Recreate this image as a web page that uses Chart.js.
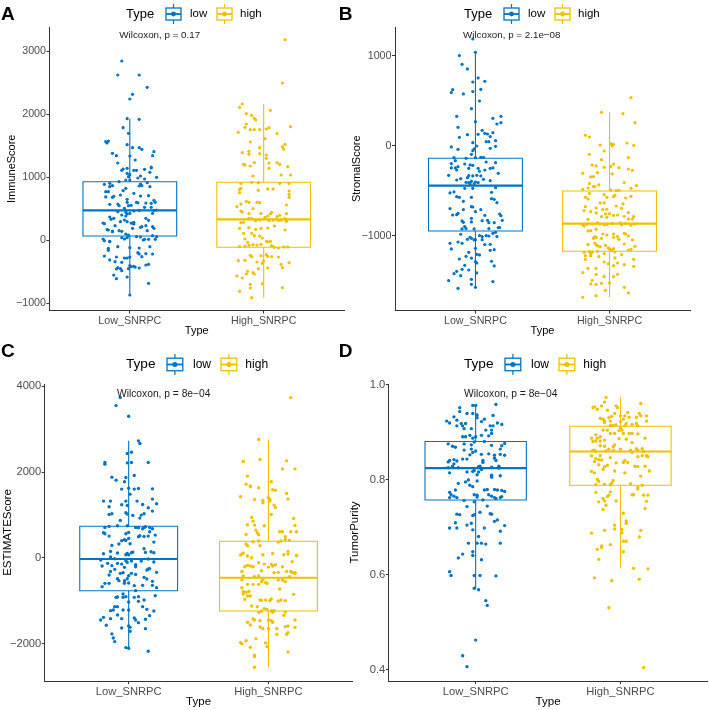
<!DOCTYPE html>
<html><head><meta charset="utf-8">
<script src="https://cdn.jsdelivr.net/npm/chart.js@4.4.1/dist/chart.umd.min.js"></script>
<style>
html,body{margin:0;padding:0;background:#fff;}
#wrap{position:relative;width:709px;height:710px;overflow:hidden;background:#fff;font-family:"Liberation Sans",Arial,Helvetica,sans-serif;}
canvas{position:absolute;}
.t{position:absolute;white-space:nowrap;line-height:1;color:#000;}
svg{position:absolute;}
</style></head><body><div id="wrap"></div>
<script>
const categories = ['Low_SNRPC', 'High_SNRPC'];
const groupNames = ['low', 'high'];
const groupColors = ['#0073C2', '#EFC000'];

// ---------- Panel A: ImmuneScore ----------
const immuneLowJitter = [-0.06,-0.09,0.07,0.13,0.02,0.00,-0.02,0.07,-0.05,-0.01,-0.18,-0.17,-0.16,-0.02,0.07,0.02,0.09,0.18,-0.13,-0.10,0.17,0.00,0.04,-0.09,-0.05,-0.06,-0.02,0.03,0.16,0.16,0.11,-0.02,0.05,0.08,0.15,0.00,-0.01,0.20,0.06,0.11,-0.08,0.13,0.08,-0.03,0.00,-0.19,-0.15,-0.15,-0.13,-0.18,-0.16,-0.03,0.07,0.09,0.15,-0.05,-0.12,-0.13,-0.18,-0.07,0.08,0.14,0.03,-0.02,0.18,-0.02,0.05,0.06,-0.04,-0.09,-0.08,-0.01,0.01,0.12,0.16,0.19,-0.15,-0.09,-0.03,0.11,0.16,0.18,0.20,0.00,-0.06,-0.02,0.03,0.07,0.17,-0.12,-0.15,-0.14,-0.07,-0.04,-0.02,0.01,0.03,-0.03,-0.20,-0.19,0.12,0.14,0.12,-0.11,0.09,0.17,0.03,0.02,0.02,-0.17,-0.16,-0.13,-0.13,-0.08,-0.06,0.08,0.13,0.18,-0.03,-0.06,-0.01,0.05,0.08,0.17,0.20,-0.15,-0.15,-0.20,-0.19,-0.04,-0.02,0.10,0.11,0.14,0.19,0.00,-0.09,0.07,-0.16,-0.16,0.15,0.06,0.07,0.17,0.12,-0.10,-0.19,-0.04,-0.02,0.00,0.09,-0.11,-0.15,-0.06,0.00,0.01,0.04,0.03,0.07,0.12,0.14,-0.09,-0.10,-0.07,-0.12,-0.10,-0.06,-0.01,-0.02,0.14,0.00];
const immuneLowValues = [2841,2619,2619,2423,2312,2238,1926,1915,1783,1693,1561,1540,1571,1513,1466,1466,1439,1402,1376,1339,1339,1333,1270,1222,1127,1106,1138,1106,1143,1159,1122,1058,1106,1016,1074,1037,1005,995,984,968,926,910,889,952,952,884,899,847,862,767,767,820,857,862,847,783,693,677,683,714,698,704,741,646,630,598,598,590,503,571,545,545,550,587,582,598,566,450,439,519,519,471,476,423,397,413,460,471,423,344,365,328,291,317,291,270,254,381,270,259,344,312,228,228,212,212,280,265,185,164,159,143,132,148,138,201,148,185,95,37,79,53,48,69,53,-21,-26,16,-11,16,37,0,11,11,11,-122,-106,-127,-132,-164,-106,-201,-222,-222,-217,-270,-254,-286,-286,-270,-265,-344,-317,-354,-407,-423,-429,-418,-444,-397,-386,-439,-460,-455,-556,-614,-487,-455,-587,-688,-873];
const immuneHighJitter = [0.16,0.14,-0.16,-0.18,-0.13,-0.09,0.05,-0.07,-0.06,-0.13,-0.14,-0.10,-0.07,-0.03,0.02,0.04,0.20,-0.19,0.10,0.01,-0.10,-0.03,0.16,0.14,0.15,-0.16,-0.11,-0.11,-0.03,0.02,0.02,-0.07,-0.15,-0.14,-0.10,0.04,0.10,0.12,0.18,-0.08,0.13,0.20,0.04,-0.17,-0.09,-0.04,0.12,0.19,-0.17,-0.18,-0.18,0.03,0.07,-0.04,0.19,0.19,0.19,-0.13,-0.11,-0.05,-0.03,-0.17,-0.20,0.17,-0.08,-0.17,-0.16,-0.11,-0.02,0.06,0.05,0.03,0.17,0.12,0.10,0.01,-0.17,-0.15,-0.11,-0.09,-0.06,-0.03,0.04,0.07,0.11,0.13,0.16,-0.18,-0.11,-0.06,-0.02,0.03,0.08,0.16,0.17,-0.15,-0.09,-0.07,-0.03,-0.01,0.03,0.05,0.02,-0.14,-0.12,-0.08,0.06,0.08,0.11,0.15,0.18,-0.18,-0.14,-0.11,-0.02,-0.05,-0.10,-0.09,-0.02,0.02,0.03,0.06,0.11,-0.19,-0.14,-0.05,0.00,-0.01,-0.04,0.03,0.13,0.14,0.19,-0.20,-0.16,-0.12,-0.08,-0.07,-0.13,-0.10,-0.10,-0.01,-0.18,0.14,-0.09];
const immuneHighValues = [3180,2492,2159,2106,2005,1979,2058,1931,1905,1841,1788,1751,1751,1751,1762,1783,1799,1709,1688,1608,1556,1466,1519,1481,1444,1386,1407,1360,1370,1349,1296,1228,1201,1190,1175,1222,1228,1201,1164,1016,1032,1032,1138,899,915,910,899,899,820,751,804,810,810,788,778,725,677,614,598,598,593,571,529,556,497,460,444,418,423,439,413,381,418,392,370,360,275,280,344,339,307,317,307,317,312,317,339,185,196,169,185,190,222,159,296,106,106,69,63,32,-32,-21,-16,16,-37,-74,-90,-116,-127,-111,-111,-106,-95,-85,-69,-79,-243,-265,-249,-233,-259,-265,-270,-328,-323,-349,-333,-370,-455,-444,-386,-439,-360,-571,-603,-497,-519,-540,-540,-704,-762,-693,-815,-757,-915];
// box: [lower whisker, Q1, median, Q3, upper whisker]
const immuneLowBox = [-873, 63, 471, 925, 1926];
const immuneHighBox = [-915, -116, 329, 916, 2159];
const immuneTicks = [-1000, 0, 1000, 2000, 3000];

// ---------- Panel B: StromalScore ----------
const stromalLowJitter = [-0.02,0.00,-0.12,-0.10,-0.06,0.02,-0.02,0.07,-0.17,-0.18,-0.09,-0.02,0.04,0.03,-0.03,0.00,-0.14,0.13,0.19,0.19,0.16,-0.13,0.05,0.07,0.09,0.13,-0.06,0.02,0.11,-0.12,0.15,0.08,0.10,-0.02,0.15,-0.18,-0.13,0.01,0.11,-0.01,-0.02,-0.03,-0.16,-0.07,0.00,0.04,0.06,-0.15,0.08,0.15,-0.18,-0.08,-0.04,-0.02,-0.18,-0.15,-0.13,-0.14,-0.05,0.02,0.07,0.11,0.13,0.03,0.17,-0.20,-0.06,-0.05,-0.02,0.01,0.04,-0.14,-0.11,0.06,0.11,-0.07,-0.05,-0.03,0.00,0.02,-0.04,-0.01,0.15,-0.19,-0.16,-0.08,-0.02,-0.14,-0.12,-0.03,0.12,0.12,0.14,0.16,-0.09,-0.19,-0.03,-0.02,0.00,0.04,-0.14,-0.13,-0.17,-0.09,0.07,0.18,0.19,0.20,-0.10,-0.09,-0.03,0.05,-0.03,0.09,0.10,0.14,0.17,0.18,-0.08,-0.07,-0.10,-0.01,0.10,0.15,0.13,-0.11,-0.04,-0.03,0.03,0.05,0.05,0.08,0.10,0.16,-0.01,0.00,-0.13,-0.19,-0.10,-0.06,-0.18,0.11,0.00,0.07,0.14,0.11,-0.05,0.01,0.03,-0.12,-0.07,-0.03,0.00,0.01,-0.08,0.12,0.14,-0.14,-0.10,-0.05,-0.16,-0.11,0.01,-0.20,-0.03,0.13,-0.03,-0.13,0.00];
const stromalLowValues = [1189,1041,1004,907,856,756,711,719,626,593,578,604,630,500,415,270,330,307,329,259,244,207,174,141,133,148,126,130,104,96,59,48,48,37,-4,-11,-37,0,-26,-33,-52,-93,-130,-137,-130,-126,-126,-163,-178,-185,-196,-200,-211,-215,-244,-244,-230,-267,-248,-248,-267,-248,-244,-281,-304,-326,-352,-330,-333,-326,-333,-378,-363,-370,-385,-404,-407,-393,-400,-407,-422,-422,-463,-522,-511,-470,-470,-563,-570,-570,-515,-585,-593,-630,-615,-696,-674,-678,-730,-707,-763,-748,-767,-707,-770,-756,-774,-826,-833,-848,-804,-830,-844,-826,-852,-852,-907,-907,-896,-918,-922,-922,-918,-959,-970,-981,-1015,-1026,-996,-1007,-1041,-996,-1000,-1007,-1044,-1041,-1067,-1081,-1081,-1037,-1144,-1093,-1137,-1096,-1152,-1159,-1182,-1204,-1211,-1256,-1226,-1245,-1285,-1300,-1326,-1281,-1333,-1393,-1370,-1378,-1419,-1441,-1411,-1496,-1482,-1507,-1537,-1582,-1570];
const stromalHighJitter = [0.16,-0.06,0.10,0.19,-0.18,-0.15,-0.07,0.01,0.03,0.02,0.13,0.18,-0.04,-0.15,0.14,-0.06,-0.13,-0.10,0.03,0.01,-0.04,0.07,0.14,0.17,-0.20,-0.09,0.02,-0.14,-0.12,-0.15,-0.11,-0.12,-0.08,0.11,0.20,0.16,-0.20,-0.16,0.01,0.05,0.07,-0.15,-0.04,-0.02,0.03,0.04,0.16,0.12,-0.18,-0.16,0.10,-0.07,-0.04,-0.10,-0.18,-0.19,-0.14,-0.05,-0.02,0.05,0.09,0.14,-0.10,-0.03,0.00,0.03,0.06,-0.06,-0.02,0.11,0.14,0.17,0.18,-0.16,-0.09,-0.20,-0.19,-0.17,-0.13,-0.07,-0.04,-0.02,0.02,0.08,0.09,0.12,0.19,0.16,-0.16,-0.14,-0.10,-0.11,-0.12,-0.10,-0.05,-0.02,-0.06,0.03,0.03,0.06,0.11,0.12,0.14,0.07,0.17,-0.16,-0.11,-0.10,-0.09,-0.07,-0.03,0.11,0.19,-0.01,0.00,0.02,0.03,0.01,0.16,-0.19,-0.18,-0.15,-0.14,-0.13,-0.09,-0.04,0.04,0.09,0.14,-0.18,-0.14,-0.08,0.04,0.18,-0.04,-0.01,0.06,0.11,0.03,-0.10,-0.10,-0.16,-0.20,0.18,0.06,0.03,-0.04,-0.13,-0.10,-0.14,-0.06,0.00,0.11,0.14,-0.03,-0.10,-0.20];
const stromalHighValues = [537,374,359,259,119,100,11,26,19,0,33,7,-56,-93,-130,-152,-211,-222,-200,-226,-237,-241,-256,-270,-304,-296,-311,-344,-341,-419,-452,-448,-433,-407,-441,-470,-482,-467,-489,-496,-493,-526,-540,-570,-563,-548,-559,-578,-570,-589,-644,-633,-633,-689,-674,-718,-730,-707,-704,-667,-693,-741,-744,-755,-752,-770,-767,-785,-793,-781,-811,-811,-785,-815,-852,-874,-889,-870,-867,-867,-874,-874,-859,-855,-874,-859,-867,-881,-944,-941,-926,-1007,-1026,-1015,-978,-989,-1026,-978,-1015,-1007,-970,-978,-1000,-1037,-1044,-1096,-1078,-1096,-1111,-1119,-1104,-1089,-1115,-1133,-1144,-1152,-1141,-1159,-1148,-1181,-1219,-1174,-1193,-1181,-1170,-1196,-1178,-1207,-1156,-1259,-1219,-1230,-1244,-1259,-1289,-1307,-1300,-1319,-1330,-1359,-1426,-1359,-1407,-1337,-1426,-1452,-1452,-1493,-1537,-1533,-1526,-1522,-1570,-1633,-1604,-1663,-1682];
const stromalLowBox = [-1582, -944, -441, -137, 1041];
const stromalHighBox = [-1682, -1170, -863, -500, 374];
const stromalTicks = [-1000, 0, 1000];

// ---------- Panel C: ESTIMATEScore ----------
const estimateLowJitter = [-0.06,-0.09,0.00,0.07,0.08,-0.01,0.02,-0.17,-0.17,0.02,-0.01,0.14,-0.12,-0.09,-0.02,-0.03,0.04,-0.05,0.00,0.04,0.07,0.17,0.01,-0.18,-0.13,-0.02,0.06,0.14,0.17,0.20,0.10,-0.05,-0.14,-0.01,-0.12,-0.14,-0.02,-0.01,0.03,0.09,0.11,0.17,-0.06,0.08,-0.08,-0.01,-0.17,-0.14,0.05,0.07,0.10,0.11,0.12,0.15,0.17,-0.18,-0.17,-0.14,-0.02,0.00,0.07,0.08,0.11,0.14,0.19,0.15,-0.05,-0.03,-0.02,0.00,-0.07,-0.12,0.18,0.01,0.11,0.12,0.16,0.18,0.03,-0.01,-0.02,0.00,0.02,-0.08,-0.13,-0.18,-0.13,-0.10,-0.02,-0.01,0.02,0.09,0.14,0.18,-0.20,-0.15,-0.19,-0.12,-0.08,-0.05,-0.03,0.05,0.05,0.13,0.14,0.15,0.20,-0.13,-0.10,-0.06,-0.04,-0.14,0.00,0.02,0.05,-0.08,-0.07,-0.01,-0.03,0.11,0.13,0.17,-0.17,-0.14,-0.19,-0.03,0.00,0.04,0.10,0.17,0.20,0.05,-0.04,-0.04,-0.09,-0.08,-0.02,0.04,0.07,0.11,0.19,-0.10,-0.08,0.00,0.07,-0.13,-0.11,-0.04,0.00,0.10,0.13,0.18,-0.20,-0.18,-0.13,-0.08,-0.05,0.04,0.05,0.07,0.12,0.15,0.12,-0.16,0.00,0.01,-0.05,0.01,-0.12,-0.11,-0.10,-0.02,0.00,0.14];
const estimateLowValues = [3737,3551,3302,2727,2665,2432,2463,2183,2222,2222,2215,2222,1880,1810,1872,1772,1919,1601,1624,1601,1616,1608,1484,1321,1321,1321,1321,1166,1368,1259,1243,1235,1189,1220,1026,1010,1049,1018,987,995,1026,1088,870,925,746,746,707,730,707,699,676,707,723,707,676,583,559,505,559,591,490,513,497,505,528,606,396,420,404,451,319,287,365,326,210,124,140,117,132,101,70,70,117,109,148,93,16,-23,-70,-109,-78,-78,-31,-101,-54,-132,-194,-186,-132,-148,-225,-163,-210,-288,-264,-256,-342,-319,-272,-365,-350,-404,-420,-365,-389,-490,-536,-490,-536,-458,-497,-552,-598,-598,-676,-598,-591,-653,-645,-645,-699,-769,-847,-925,-925,-917,-909,-925,-909,-987,-886,-1142,-1142,-1033,-1018,-1235,-1220,-1220,-1220,-1142,-1204,-1243,-1453,-1391,-1422,-1336,-1422,-1406,-1453,-1515,-1437,-1352,-1655,-1577,-1593,-1624,-1639,-1717,-1779,-1873,-1958,-2098,-2113,-2183];
const estimateHighJitter = [0.16,-0.07,-0.18,-0.06,0.13,0.10,0.19,-0.15,-0.16,-0.13,-0.13,-0.07,0.02,0.03,0.05,0.13,-0.20,-0.10,-0.04,-0.04,0.00,0.01,0.01,0.14,0.04,0.05,0.02,-0.12,-0.11,-0.10,-0.03,-0.15,-0.09,-0.08,-0.07,0.08,0.10,0.18,0.19,0.16,0.20,0.12,0.12,-0.16,-0.15,-0.16,-0.11,-0.07,-0.06,0.07,0.09,0.15,-0.19,-0.20,-0.18,-0.15,-0.12,-0.04,0.03,0.11,0.14,0.20,0.14,0.17,-0.07,-0.03,0.02,0.05,0.03,-0.15,-0.13,-0.17,-0.11,0.00,0.10,-0.05,0.04,0.07,-0.19,0.13,0.16,0.19,0.19,0.17,-0.10,-0.19,-0.18,-0.07,-0.05,-0.04,-0.02,0.07,0.10,0.12,0.15,-0.15,-0.11,-0.07,-0.01,-0.19,0.08,-0.18,-0.16,-0.14,-0.18,-0.15,-0.13,0.18,-0.17,-0.06,-0.05,-0.02,0.01,0.02,0.07,0.09,0.12,-0.12,-0.08,-0.05,-0.03,-0.01,0.02,0.04,0.03,-0.07,0.12,0.11,-0.11,-0.10,-0.15,-0.13,-0.06,0.00,0.02,0.03,0.19,0.19,0.14,0.12,0.06,-0.06,-0.04,0.00,0.06,0.14,0.13,-0.09,-0.16,-0.20,-0.19,-0.13,-0.02,-0.01,0.14,-0.10,-0.10,-0.10];
const estimateHighValues = [3737,2758,2246,2292,2261,2075,2075,1904,1717,1678,1655,1632,1772,1585,1577,1500,1422,1360,1336,1282,1399,1360,1321,1368,1228,1173,1010,940,855,761,746,769,645,583,536,606,606,917,754,606,606,490,427,544,280,319,373,389,280,365,389,404,85,62,109,39,0,70,101,70,85,54,148,-93,-117,-148,-148,-163,-194,-179,-194,-210,-210,-218,-210,-303,-350,-342,-319,-319,-319,-342,-365,-350,-443,-521,-427,-427,-559,-513,-583,-521,-521,-559,-443,-622,-622,-622,-598,-699,-730,-785,-808,-785,-847,-894,-894,-855,-971,-987,-995,-987,-1002,-963,-1010,-987,-1002,-1127,-1142,-1243,-1189,-1204,-1235,-1235,-1274,-1274,-1266,-1344,-1430,-1453,-1507,-1570,-1469,-1453,-1469,-1507,-1453,-1624,-1593,-1608,-1655,-1616,-1655,-1655,-1787,-1748,-1787,-1888,-1935,-1981,-2012,-2090,-1989,-2075,-2199,-2277,-2308,-2556];
const estimateLowBox = [-2115, -770, -30, 733, 2727];
const estimateHighBox = [-2556, -1244, -467, 383, 2758];
const estimateTicks = [-2000, 0, 2000, 4000];

// ---------- Panel D: TumorPurity ----------
const purityLowJitter = [0.14,-0.02,0.00,-0.11,-0.11,-0.06,-0.02,0.01,0.01,-0.15,-0.20,-0.18,-0.13,-0.13,-0.10,-0.07,-0.09,-0.08,-0.03,0.04,0.06,0.12,0.15,0.18,0.10,0.12,0.11,0.07,0.11,0.09,0.04,0.00,-0.04,-0.09,-0.07,-0.02,0.06,-0.01,-0.19,-0.16,-0.14,-0.08,-0.03,0.11,0.18,0.17,0.20,-0.08,-0.03,-0.02,-0.04,0.04,0.09,0.13,0.17,0.20,0.00,-0.18,-0.19,-0.15,-0.09,-0.13,0.05,0.05,-0.06,0.13,0.14,-0.15,-0.16,-0.19,-0.12,0.02,0.03,0.04,-0.02,-0.01,0.02,0.11,0.16,0.16,-0.18,-0.06,0.01,0.11,0.11,0.17,-0.05,-0.07,0.01,-0.12,-0.04,-0.02,0.08,0.06,0.13,0.15,0.18,0.20,-0.14,-0.18,-0.17,-0.18,-0.15,-0.13,-0.01,0.01,0.01,0.09,0.11,0.13,0.14,0.17,0.18,-0.08,0.05,-0.01,-0.06,0.08,-0.13,-0.11,-0.01,0.03,0.10,0.11,-0.02,-0.14,-0.06,-0.03,0.13,0.15,-0.18,-0.13,0.06,0.20,-0.02,0.17,0.02,-0.05,0.01,0.04,0.07,0.17,-0.02,-0.02,-0.09,-0.12,0.04,-0.18,-0.17,-0.01,0.03,0.14,-0.01,0.02,0.07,0.08,0.00,-0.09,-0.06];
const purityLowValues = [0.959,0.957,0.957,0.952,0.944,0.940,0.940,0.937,0.931,0.933,0.924,0.920,0.926,0.914,0.919,0.919,0.914,0.908,0.908,0.923,0.928,0.936,0.920,0.917,0.914,0.914,0.905,0.905,0.898,0.893,0.894,0.891,0.894,0.891,0.891,0.888,0.881,0.880,0.876,0.871,0.869,0.876,0.874,0.873,0.872,0.865,0.877,0.863,0.865,0.858,0.853,0.854,0.855,0.852,0.854,0.852,0.861,0.841,0.838,0.843,0.844,0.840,0.841,0.837,0.844,0.846,0.841,0.834,0.829,0.826,0.826,0.828,0.829,0.822,0.818,0.820,0.817,0.827,0.829,0.825,0.815,0.817,0.811,0.810,0.806,0.809,0.800,0.796,0.798,0.793,0.789,0.786,0.780,0.779,0.780,0.779,0.778,0.776,0.779,0.774,0.769,0.763,0.766,0.763,0.769,0.768,0.764,0.769,0.766,0.763,0.761,0.763,0.765,0.757,0.758,0.754,0.744,0.745,0.728,0.727,0.727,0.732,0.729,0.728,0.725,0.710,0.705,0.709,0.713,0.716,0.699,0.699,0.699,0.704,0.695,0.692,0.681,0.667,0.667,0.667,0.665,0.667,0.649,0.641,0.644,0.636,0.632,0.607,0.599,0.599,0.599,0.598,0.572,0.569,0.546,0.536,0.463,0.430,0.407];
const purityHighJitter = [-0.10,-0.11,-0.13,-0.19,-0.18,-0.16,-0.03,-0.02,0.14,-0.09,-0.04,0.05,0.03,0.13,0.14,0.18,0.18,0.11,0.06,0.00,0.02,0.08,0.11,0.12,-0.14,-0.12,-0.11,-0.11,-0.08,-0.06,-0.07,-0.07,-0.05,-0.03,0.00,0.00,0.01,0.03,0.04,-0.01,-0.09,-0.12,-0.07,-0.04,0.02,0.06,0.08,0.12,-0.17,-0.14,-0.16,-0.20,-0.19,-0.17,-0.14,-0.11,0.17,-0.01,0.04,0.08,-0.04,-0.05,-0.14,-0.11,-0.08,-0.18,-0.19,-0.17,-0.10,-0.05,0.00,0.07,0.08,0.11,0.12,0.15,0.16,0.18,0.19,0.15,0.12,-0.20,-0.14,-0.07,-0.17,-0.15,-0.18,-0.13,-0.03,0.02,0.03,0.05,0.10,0.12,0.17,-0.09,-0.11,-0.12,-0.15,-0.20,-0.18,-0.04,0.03,0.20,0.14,-0.05,-0.06,-0.16,-0.15,-0.17,-0.07,-0.11,0.07,0.12,0.12,0.15,-0.07,-0.08,-0.09,-0.12,-0.11,-0.17,0.08,0.09,0.16,0.19,-0.03,-0.15,0.18,-0.10,-0.12,0.17,0.02,0.04,0.04,-0.04,-0.04,0.01,-0.11,0.01,-0.20,0.14,0.13,0.02,0.04,-0.07,-0.13,-0.13,0.02,-0.16,-0.15,0.09,0.19,-0.18,0.13,-0.06,-0.08,0.16];
const purityHighValues = [0.974,0.964,0.956,0.952,0.954,0.949,0.956,0.952,0.961,0.947,0.940,0.942,0.935,0.940,0.935,0.935,0.924,0.932,0.932,0.935,0.928,0.917,0.919,0.914,0.930,0.928,0.924,0.921,0.931,0.934,0.924,0.915,0.915,0.916,0.923,0.910,0.905,0.914,0.919,0.904,0.905,0.905,0.898,0.898,0.898,0.898,0.898,0.897,0.895,0.891,0.888,0.888,0.881,0.882,0.882,0.884,0.888,0.887,0.886,0.879,0.874,0.870,0.872,0.871,0.865,0.863,0.862,0.860,0.861,0.862,0.865,0.863,0.858,0.866,0.863,0.866,0.860,0.851,0.849,0.851,0.849,0.851,0.851,0.847,0.845,0.843,0.839,0.842,0.836,0.837,0.841,0.837,0.829,0.828,0.829,0.831,0.828,0.822,0.832,0.818,0.815,0.819,0.815,0.819,0.808,0.799,0.794,0.801,0.797,0.790,0.790,0.791,0.792,0.785,0.781,0.789,0.775,0.768,0.765,0.761,0.756,0.774,0.769,0.769,0.768,0.768,0.756,0.754,0.755,0.747,0.738,0.740,0.730,0.714,0.709,0.705,0.697,0.696,0.694,0.689,0.688,0.694,0.680,0.671,0.671,0.664,0.661,0.658,0.649,0.654,0.633,0.614,0.613,0.594,0.591,0.588,0.531,0.405];
const purityLowBox = [0.570, 0.758, 0.825, 0.881, 0.959];
const purityHighBox = [0.614, 0.789, 0.860, 0.913, 0.974];
const purityTicks = [0.4, 0.6, 0.8, 1.0];

const pValues = ['0.17', '2.1e\u221208', '8e\u221204', '8e\u221204'];

// ---------- drawing ----------
const FONT = '"Liberation Sans", Arial, Helvetica, sans-serif';
Chart.defaults.font.family = FONT;
const wrap = document.getElementById('wrap');

const intFmt = v => (v < 0 ? '\u2212' + Math.abs(v) : String(v));
const decFmt = v => v.toFixed(1);

const panels = [
  { letter:'A', canvas:{left:0, top:0, w:354, h:340}, area:{l:49.5, r:344, t:27, b:310.5}, yRange:[-1119, 3381],
    ticks:immuneTicks, fmt:intFmt, yTitle:'ImmuneScore', fs:1, yTitlePad:5.4, xTickPad:1, xTitlePad:2.4,
    series:[[immuneLowJitter, immuneLowValues, immuneLowBox],[immuneHighJitter, immuneHighValues, immuneHighBox]],
    letterPos:[1, 4.3], legendX:126, legendY:14, pX:119.3, pY:35, p:pValues[0] },
  { letter:'B', canvas:{left:340, top:0, w:369, h:340}, area:{l:55, r:350, t:27, b:310.5}, yRange:[-1828, 1322],
    ticks:stromalTicks, fmt:intFmt, yTitle:'StromalScore', fs:1, yTitlePad:10, xTickPad:1, xTitlePad:2.4,
    series:[[stromalLowJitter, stromalLowValues, stromalLowBox],[stromalHighJitter, stromalHighValues, stromalHighBox]],
    letterPos:[338.8, 4.3], legendX:464, legendY:14, pX:463, pY:35, p:pValues[1] },
  { letter:'C', canvas:{left:0, top:340, w:354, h:370}, area:{l:44.8, r:353.5, t:44, b:341}, yRange:[-2877, 4054],
    ticks:estimateTicks, fmt:intFmt, yTitle:'ESTIMATEScore', fs:1.047, yTitlePad:1, xTickPad:1.3, xTitlePad:1.1,
    series:[[estimateLowJitter, estimateLowValues, estimateLowBox],[estimateHighJitter, estimateHighValues, estimateHighBox]],
    letterPos:[1, 340.9], legendX:126, legendY:364.5, pX:117, pY:394.5, p:pValues[2] },
  { letter:'D', canvas:{left:340, top:340, w:369, h:370}, area:{l:48.8, r:368.5, t:44, b:341}, yRange:[0.3768, 1.0021],
    ticks:purityTicks, fmt:decFmt, yTitle:'TumorPurity', fs:1.047, yTitlePad:8, xTickPad:1.3, xTitlePad:1.1,
    series:[[purityLowJitter, purityLowValues, purityLowBox],[purityHighJitter, purityHighValues, purityHighBox]],
    letterPos:[338.8, 340.9], legendX:464, legendY:364.5, pX:464, pY:394, p:pValues[3] }
];

function addText(txt, left, cy, size, extra) {
  const d = document.createElement('div');
  d.className = 't';
  d.textContent = txt;
  d.style.left = left + 'px';
  d.style.top = (cy - size * 0.52) + 'px';
  d.style.fontSize = size + 'px';
  if (extra) Object.assign(d.style, extra);
  wrap.appendChild(d);
  return d;
}

function legendKey(x, cy, color, s) {
  const ns = 'http://www.w3.org/2000/svg';
  const w = 17 * s, h = 20 * s;
  const svg = document.createElementNS(ns, 'svg');
  svg.setAttribute('width', w); svg.setAttribute('height', h);
  svg.style.left = x + 'px'; svg.style.top = (cy - h / 2) + 'px';
  const mk = (tag, attrs) => { const e = document.createElementNS(ns, tag); for (const k in attrs) e.setAttribute(k, attrs[k]); svg.appendChild(e); };
  mk('line', {x1:w/2, y1:0, x2:w/2, y2:h, stroke:color, 'stroke-width':1.2});
  mk('rect', {x:1, y:4*s, width:w-2, height:h-8*s, fill:'#fff', stroke:color, 'stroke-width':1.3});
  mk('line', {x1:1, y1:h/2, x2:w-1, y2:h/2, stroke:color, 'stroke-width':1.8});
  mk('circle', {cx:w/2, cy:h/2, r:2.4*s, fill:color});
  wrap.appendChild(svg);
}

function buildPanel(p) {
  const cv = document.createElement('canvas');
  cv.width = p.canvas.w; cv.height = p.canvas.h;
  cv.style.left = p.canvas.left + 'px'; cv.style.top = p.canvas.top + 'px';
  cv.style.width = p.canvas.w + 'px'; cv.style.height = p.canvas.h + 'px';
  wrap.appendChild(cv);

  const datasets = [];
  const hw = 0.35;
  p.series.forEach((s, gi) => {
    const [jit, vals, box] = s;
    const c = gi + 1;
    const col = groupColors[gi];
    datasets.push({
      label: groupNames[gi],
      data: vals.map((v, i) => ({x: c + jit[i], y: v})),
      backgroundColor: col, borderColor: col, borderWidth: 0,
      pointRadius: 1.6 * p.fs, pointHoverRadius: 0, showLine: false, order: 0, clip: false
    });
    const seg = (pts, w) => ({
      data: pts, showLine: true, pointRadius: 0, pointHoverRadius: 0,
      borderColor: col, borderWidth: w, fill: false, tension: 0, order: 1,
      borderCapStyle: 'butt', borderJoinStyle: 'miter', backgroundColor: 'rgba(0,0,0,0)'
    });
    datasets.push(seg([{x:c, y:box[0]}, {x:c, y:box[1]}], 1.1));
    datasets.push(seg([{x:c, y:box[3]}, {x:c, y:box[4]}], 1.1));
    datasets.push(seg([{x:c-hw, y:box[1]}, {x:c+hw, y:box[1]}, {x:c+hw, y:box[3]}, {x:c-hw, y:box[3]}, {x:c-hw, y:box[1]}, {x:c+hw, y:box[1]}], 1.1));
    datasets.push(seg([{x:c-hw, y:box[2]}, {x:c+hw, y:box[2]}], 2.2));
  });

  const tickFont = {family: FONT, size: 10.7 * p.fs};
  const titleFont = {family: FONT, size: 11 * p.fs};
  const axisCol = '#333333';
  new Chart(cv.getContext('2d'), {
    type: 'scatter',
    data: {datasets},
    options: {
      responsive: false, animation: false, devicePixelRatio: 1, events: [],
      layout: {padding: {left: 0, top: p.area.t, right: p.canvas.w - p.area.r, bottom: 0}},
      plugins: {legend: {display: false}, tooltip: {enabled: false}},
      scales: {
        x: {
          type: 'linear', min: 0.4, max: 2.6, bounds: 'data',
          afterBuildTicks: s => { s.ticks = categories.map((_, i) => ({value: i + 1})); },
          afterFit: s => { s.height = p.canvas.h - p.area.b; },
          ticks: {callback: v => categories[Math.round(v) - 1], color: '#4D4D4D', font: tickFont, padding: p.xTickPad, maxRotation: 0, autoSkip: false},
          grid: {display: true, drawOnChartArea: false, drawTicks: true, tickLength: 3, tickColor: axisCol, tickWidth: 1},
          border: {display: true, color: axisCol, width: 1},
          title: {display: true, text: 'Type', color: '#000', font: titleFont, padding: {top: 0, bottom: p.xTitlePad}}
        },
        y: {
          type: 'linear', min: p.yRange[0], max: p.yRange[1], bounds: 'data',
          afterBuildTicks: s => { s.ticks = p.ticks.map(v => ({value: v})); },
          afterFit: s => { s.width = p.area.l; },
          ticks: {callback: v => p.fmt(v), color: '#4D4D4D', font: tickFont, padding: 0.5, autoSkip: false},
          grid: {display: true, drawOnChartArea: false, drawTicks: true, tickLength: 3, tickColor: axisCol, tickWidth: 1},
          border: {display: true, color: axisCol, width: 1},
          title: {display: true, text: p.yTitle, color: '#000', font: titleFont, padding: {top: p.yTitlePad, bottom: 0}}
        }
      }
    }
  });

  // panel letter
  const ld = addText(p.letter, p.letterPos[0], 0, 19, {fontWeight: 'bold'});
  ld.style.top = p.letterPos[1] + 'px';
  // legend
  const s = p.fs;
  addText('Type', p.legendX, p.legendY, 13 * s);
  legendKey(p.legendX + 38.5 * s, p.legendY, groupColors[0], s);
  addText(groupNames[0], p.legendX + 64 * s, p.legendY, 11.5 * s);
  legendKey(p.legendX + 89.5 * s, p.legendY, groupColors[1], s);
  addText(groupNames[1], p.legendX + 114 * s, p.legendY, 11.5 * s);
  // test annotation
  addText('Wilcoxon, p = ' + p.p, p.pX, p.pY, 9.8 * s, {color: '#1a1a1a'});
}

panels.forEach(buildPanel);
</script>
</body></html>
